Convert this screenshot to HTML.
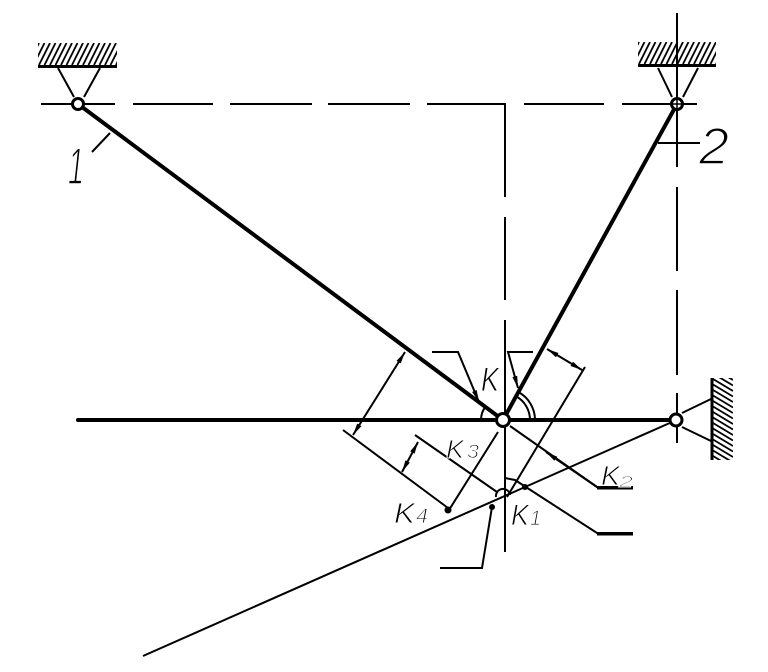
<!DOCTYPE html>
<html><head><meta charset="utf-8"><style>
html,body{margin:0;padding:0;background:#fff;}
svg{display:block;}
text{font-family:"Liberation Sans",sans-serif;font-style:italic;fill:#000;stroke:#fff;stroke-width:0.9;}
text.big{stroke-width:1.6;}
</style></head><body>
<svg width="768" height="672" viewBox="0 0 768 672" xmlns="http://www.w3.org/2000/svg">
<defs>
<marker id="a" viewBox="0 0 12 5" refX="12" refY="2.5" markerWidth="12" markerHeight="5" markerUnits="userSpaceOnUse" orient="auto-start-reverse"><path d="M0,0 L12,2.5 L0,5z" fill="#000"/></marker>
<clipPath id="c1"><rect x="38" y="43" width="79" height="22"/></clipPath>
<clipPath id="c2"><rect x="638" y="42" width="78" height="22"/></clipPath>
<clipPath id="c3"><rect x="713" y="378" width="20" height="82"/></clipPath>
</defs>

<!-- dashed center lines -->
<g stroke="#000" stroke-width="2" fill="none">
<path d="M41,104H115 M133,104H213 M230,104H312 M328,104H410 M427,104H505 V197 M505,217V300 M505,320V413 M505,427V552 M524,104H604 M622,104H697"/>
<path d="M677,13V167 M677,187V271 M677,290V375 M677,393V443"/>
</g>

<!-- top-left support -->
<g stroke="#000" fill="none">
<g clip-path="url(#c1)" stroke-width="1.8">
<path d="M28,65l11,-22 M33.5,65l11,-22 M39,65l11,-22 M44.5,65l11,-22 M50,65l11,-22 M55.5,65l11,-22 M61,65l11,-22 M66.5,65l11,-22 M72,65l11,-22 M77.5,65l11,-22 M83,65l11,-22 M88.5,65l11,-22 M94,65l11,-22 M99.5,65l11,-22 M105,65l11,-22 M110.5,65l11,-22 M116,65l11,-22"/>
</g>
<path d="M38,66.5H117" stroke-width="3"/>
<path d="M58,68L74,97 M100,68L84,97" stroke-width="2"/>
</g>

<!-- top-right support -->
<g stroke="#000" fill="none">
<g clip-path="url(#c2)" stroke-width="1.8">
<path d="M628,64l11,-22 M633.5,64l11,-22 M639,64l11,-22 M644.5,64l11,-22 M650,64l11,-22 M655.5,64l11,-22 M661,64l11,-22 M666.5,64l11,-22 M672,64l11,-22 M677.5,64l11,-22 M683,64l11,-22 M688.5,64l11,-22 M694,64l11,-22 M699.5,64l11,-22 M705,64l11,-22 M710.5,64l11,-22 M716,64l11,-22"/>
</g>
<path d="M638,65.5H716" stroke-width="3"/>
<path d="M658,68L672,97 M698,68L683,97" stroke-width="2"/>
</g>

<!-- right side support -->
<g stroke="#000" fill="none">
<g clip-path="url(#c3)" stroke-width="1.8">
<path d="M713,368l20,12 M713,373.5l20,12 M713,379l20,12 M713,384.5l20,12 M713,390l20,12 M713,395.5l20,12 M713,401l20,12 M713,406.5l20,12 M713,412l20,12 M713,417.5l20,12 M713,423l20,12 M713,428.5l20,12 M713,434l20,12 M713,439.5l20,12 M713,445l20,12 M713,450.5l20,12 M713,456l20,12"/>
</g>
<path d="M712,378V460" stroke-width="3"/>
<path d="M682,413L711,399 M682,427L711,441" stroke-width="2"/>
</g>

<!-- thin construction lines -->
<g stroke="#000" stroke-width="2" fill="none">
<path d="M143,656L672,422"/>
<path d="M510,426L597,487H633"/>
<path d="M498,432L449,510"/>
<path d="M343,430L448,508"/>
<path d="M415,435L497,492"/>
<path d="M585,367L507,497"/>
<path d="M505,478L515,480L597,533H633"/>
<path d="M492,507L482,568H440"/>
<path d="M92,152L110,133"/>
<path d="M658,143H700"/>
<path d="M516,396.3A27,27 0 0,1 530,420"/>
<path d="M518.4,392A32,32 0 0,1 535,420"/>
<path d="M481,420A22,22 0 0,1 485.3,406.9"/>
<path d="M496,497A7,7 0 0,1 510,495"/>
<line x1="353" y1="435" x2="405" y2="352" marker-start="url(#a)" marker-end="url(#a)"/>
<line x1="402" y1="472" x2="418" y2="442" marker-start="url(#a)" marker-end="url(#a)"/>
<line x1="547" y1="349" x2="582" y2="370" marker-start="url(#a)" marker-end="url(#a)"/>
<polyline points="432,352 458,352 479,402" marker-end="url(#a)"/>
<polyline points="533,352 508,352 518,388" marker-end="url(#a)"/>
<line x1="597" y1="487" x2="546" y2="452" marker-end="url(#a)"/>
<path d="M597,488H633" stroke-width="3"/>
<path d="M597,534H633" stroke-width="3"/>
</g>

<!-- dots -->
<g fill="#000">
<circle cx="448" cy="510" r="3.5"/>
<circle cx="492" cy="507" r="3"/>
<circle cx="525" cy="487" r="3"/>
</g>

<!-- thick links -->
<g stroke="#000" stroke-width="4" fill="none" stroke-linecap="round">
<path d="M78,420H676"/>
<path d="M78,104L503,420"/>
<path d="M677,104L503,420"/>
</g>

<!-- pivots -->
<g fill="#fff" stroke="#000" stroke-width="3">
<circle cx="78" cy="104" r="5.5"/>
<circle cx="677" cy="104" r="5.5"/>
<circle cx="503" cy="420" r="6.5"/>
<circle cx="676" cy="420" r="6"/>
</g>
<path d="M677,97V111 M670,104H684" stroke="#000" stroke-width="1.5"/>

<!-- labels -->
<text class="big" x="68" y="184" font-size="52" textLength="16" lengthAdjust="spacingAndGlyphs">1</text>
<text class="big" x="699" y="164" font-size="52" textLength="30" lengthAdjust="spacingAndGlyphs">2</text>
<text x="481" y="391" font-size="34" textLength="18" lengthAdjust="spacingAndGlyphs">K</text>
<text x="446" y="458" font-size="26" textLength="18" lengthAdjust="spacingAndGlyphs">K</text>
<text x="467" y="458" font-size="19" textLength="12" lengthAdjust="spacingAndGlyphs">3</text>
<text x="394" y="523" font-size="29" textLength="21" lengthAdjust="spacingAndGlyphs">K</text>
<text x="416" y="523" font-size="21" textLength="12" lengthAdjust="spacingAndGlyphs">4</text>
<text x="511" y="525" font-size="30" textLength="18" lengthAdjust="spacingAndGlyphs">K</text>
<text x="530" y="525" font-size="21" textLength="11" lengthAdjust="spacingAndGlyphs">1</text>
<text x="601" y="485" font-size="28" textLength="19" lengthAdjust="spacingAndGlyphs">K</text>
<text x="619" y="487" font-size="16" textLength="14" lengthAdjust="spacingAndGlyphs">2</text>
</svg>
</body></html>
